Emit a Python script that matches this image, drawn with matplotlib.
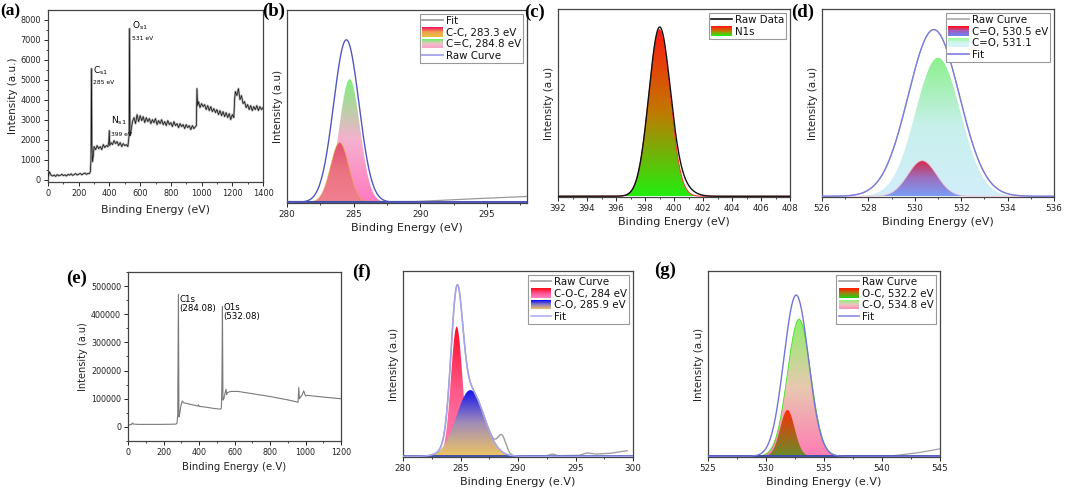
import numpy as np
import matplotlib
matplotlib.use("Agg")
import matplotlib.pyplot as plt
from matplotlib.colors import LinearSegmentedColormap
from matplotlib.legend_handler import HandlerBase
from matplotlib.patches import Rectangle, Patch
from matplotlib.lines import Line2D
from matplotlib.ticker import MultipleLocator

plt.rcParams['font.family'] = ['DejaVu Sans']

# ---------------- data ----------------
# (a) survey spectrum
a_energy = [0, 10, 20, 30, 40, 50, 60, 70, 80, 90, 100, 110, 120, 130, 140, 150, 160, 170, 180, 190,
            200, 210, 220, 230, 240, 250, 260, 270, 276, 280, 283, 286, 290, 295,
            300, 310, 320, 330, 340, 350, 360, 370, 380, 390, 396, 399, 402,
            410, 420, 430, 440, 450, 460, 470, 480, 490, 500, 510, 520, 525, 528, 531, 534, 540,
            550, 560, 570, 580, 590, 600, 610, 620, 630, 640, 650, 660, 670, 680, 690, 700,
            710, 720, 730, 740, 750, 760, 770, 780, 790, 800, 810, 820, 830, 840, 850, 860,
            870, 880, 890, 900, 910, 920, 930, 940, 950, 960, 966, 970, 974, 980, 990, 1000,
            1010, 1020, 1030, 1040, 1050, 1060, 1070, 1080, 1090, 1100, 1110, 1120, 1130, 1140,
            1150, 1160, 1170, 1180, 1190, 1200, 1210, 1215, 1220, 1230, 1240, 1250, 1260, 1270,
            1280, 1290, 1300, 1310, 1320, 1330, 1340, 1350, 1360, 1370, 1380, 1390, 1400]
a_counts = [150, 380, 220, 180, 230, 160, 250, 190, 210, 270, 200, 240, 180, 260, 220, 290, 210, 250, 300, 230,
            270, 310, 240, 290, 330, 260, 310, 300, 400, 1000, 5550, 1800, 900, 1200,
            1650, 1500, 1700, 1550, 1650, 1500, 1750, 1600, 1700, 1650, 1900, 2450, 1700,
            1850, 1750, 1950, 1800, 1900, 1700, 1850, 1650, 1800, 1700, 1750, 1650, 2000, 2200, 7550, 2200, 2400,
            2900, 3100, 2800, 3250, 2900, 3200, 2950, 3150, 2850, 3100, 2900, 3050, 2800, 3000, 2850, 3050,
            2750, 2950, 2800, 3000, 2750, 2900, 2700, 2950, 2750, 2850, 2650, 2900, 2700, 2800, 2600, 2800,
            2650, 2750, 2550, 2750, 2600, 2700, 2500, 2700, 2550, 2650, 2700, 4550, 3700, 3900, 3600, 3800,
            3650, 3750, 3500, 3700, 3450, 3650, 3400, 3550, 3350, 3500, 3250, 3450, 3200, 3400,
            3150, 3350, 3100, 3300, 3000, 3250, 3100, 4000, 4400, 4200, 4550, 4000, 4200, 3800,
            3900, 3600, 3750, 3500, 3700, 3450, 3650, 3500, 3700, 3450, 3650, 3500, 3600]
a_peak_names = ['C$_{\\rm s1}$', 'N$_{\\rm s1}$', 'O$_{\\rm s1}$']
a_peak_values = ['285 eV', '399 eV', '531 eV']

# (b) C 1s
b_labels = ['C-C, 283.3 eV', 'C=C, 284.8 eV']
b_centers = [283.95, 284.7]
b_heights = [0.31, 0.64]
b_sigmas = [0.68, 0.78]
b_env = [284.45, 0.845, 0.95]
b_tail_e = [280, 289.5, 291, 294, 298]
b_tail_i = [0.004, 0.004, 0.008, 0.018, 0.03]

# (c) N 1s
c_center, c_height, c_sigma = 399.0, 0.89, 0.74
c_raw_centers = [399.0, 400.4]
c_raw_heights = [0.895, 0.05]
c_raw_sigmas = [0.74, 0.75]

# (d) O 1s
d_labels = ['C=O, 530.5 eV', 'C=O, 531.1']
d_centers = [530.32, 531.0]
d_heights = [0.19, 0.74]
d_sigmas = [0.62, 0.97]
d_env = [530.82, 0.89, 1.1]

# (e) survey
e_energy = [0, 10, 20, 25, 30, 60, 120, 180, 240, 270, 276, 280, 284, 287, 292, 298, 305, 312,
            340, 380, 393, 397, 401, 440, 480, 520, 526, 529, 532, 535, 540, 546, 552, 556, 560,
            580, 620, 700, 800, 900, 950, 958, 962, 966, 972, 980, 990, 1000, 1010, 1100, 1200]
e_counts = [3000, 8000, 9000, 14000, 10000, 9000, 9000, 9000, 9500, 10000, 13000, 40000, 471000, 35000,
            50000, 75000, 92000, 86000, 82000, 76000, 74000, 79000, 73000, 70000, 66000, 63000, 66000,
            150000, 427000, 95000, 100000, 118000, 134000, 115000, 122000, 126000, 126000, 118000,
            108000, 96000, 89000, 87000, 140000, 100000, 106000, 112000, 128000, 110000, 112000, 106000, 100000]

# (f) C 1s
f_labels = ['C-O-C, 284 eV', 'C-O, 285.9 eV']
f_centers = [284.67, 285.85]
f_heights = [0.70, 0.357]
f_sigmas = [0.5, 1.2]
f_bump = [288.6, 0.09, 0.35]
f_tail_e = [289.8, 292.5, 293.0, 293.5, 295.3, 296.0, 296.8, 298.0, 299.5]
f_tail_i = [0.003, 0.003, 0.012, 0.003, 0.005, 0.018, 0.012, 0.016, 0.03]

# (g) O 1s
g_labels = ['O-C, 532.2 eV', 'C-O, 534.8 eV']
g_centers = [531.85, 532.85]
g_heights = [0.25, 0.74]
g_sigmas = [0.62, 1.0]
g_env = [532.6, 0.87, 1.06]
g_tail_e = [525, 541, 543, 545]
g_tail_i = [0.003, 0.003, 0.018, 0.04]

# ---------------- helpers ----------------
W, H = 1065, 488
fig = plt.figure(figsize=(W / 100, H / 100), dpi=100)
FRAME = '#444444'
TICKC = '#222222'


def add_ax(x0, x1, y0, y1):
    return fig.add_axes([x0 / W, 1 - y1 / H, (x1 - x0) / W, (y1 - y0) / H])


def gauss(x, c, h, s):
    return h * np.exp(-(x - c) ** 2 / (2 * s ** 2))


def grad_fill(ax, x, y, colors, z):
    poly = ax.fill_between(x, 0, y, facecolor='none', edgecolor='none', zorder=z)
    cmap = LinearSegmentedColormap.from_list('g', colors[::-1])
    grad = np.linspace(0, 1, 256).reshape(-1, 1)
    im = ax.imshow(grad, cmap=cmap, aspect='auto', origin='lower',
                   extent=[x.min(), x.max(), 0, y.max()], zorder=z, interpolation='bilinear')
    im.set_clip_path(poly.get_paths()[0], transform=ax.transData)


class GradHandler(HandlerBase):
    def __init__(self, colors):
        super().__init__()
        self.colors = colors

    def create_artists(self, legend, orig_handle, xdescent, ydescent, width, height, fontsize, trans):
        cmap = LinearSegmentedColormap.from_list('g', self.colors[::-1])
        n = 14
        arts = []
        for i in range(n):
            r = Rectangle((-xdescent, -ydescent + height * i / n), width, height / n * 1.05,
                          facecolor=cmap(i / (n - 1)), edgecolor='none', transform=trans)
            arts.append(r)
        return arts


def style(ax, xlab, ylab, yticks=False):
    for sp in ax.spines.values():
        sp.set_color(FRAME)
        sp.set_linewidth(0.9)
    ax.tick_params(axis='both', labelsize=6.3, colors=TICKC, length=3, width=0.7, direction='out', pad=2)
    ax.tick_params(which='minor', length=1.6, width=0.6, colors=TICKC)
    ax.set_xlabel(xlab, fontsize=8, color='#222222', labelpad=3)
    ax.set_ylabel(ylab, fontsize=7.5, color='#222222', labelpad=3)
    if not yticks:
        ax.set_yticks([])


def make_legend(ax, entries, fs=7.4):
    handles, labels, hmap = [], [], {}
    for kind, lab, spec in entries:
        if kind == 'line':
            h = Line2D([], [], color=spec, lw=1.2)
        else:
            h = Patch()
            hmap[h] = GradHandler(spec)
        handles.append(h)
        labels.append(lab)
    leg = ax.legend(handles, labels, handler_map=hmap, loc='upper right', fontsize=fs,
                    frameon=True, fancybox=False, edgecolor='#999999', framealpha=1,
                    handlelength=2.0, handleheight=1.05, handletextpad=0.3, labelspacing=0.12,
                    borderpad=0.22, borderaxespad=0.35)
    leg.get_frame().set_linewidth(0.8)
    for t in leg.get_texts():
        t.set_color('#111111')
    return leg


def panel_label(x, y, s, fs=13.5):
    fig.text(x / W, 1 - y / H, s, fontsize=fs, fontweight='bold', family='Liberation Serif',
             ha='left', va='center')


# ---------------- (a) ----------------
ax = add_ax(48, 263, 10, 182)
ax.plot(a_energy, a_counts, color='#b0b0b0', lw=1.6, zorder=2)
ax.plot(a_energy, a_counts, color='#111111', lw=0.5, zorder=3)
ax.set_xlim(0, 1400)
ax.set_ylim(-120, 8480)
ax.xaxis.set_major_locator(MultipleLocator(200))
ax.xaxis.set_minor_locator(MultipleLocator(100))
ax.yaxis.set_major_locator(MultipleLocator(1000))
ax.yaxis.set_minor_locator(MultipleLocator(500))
style(ax, 'Binding Energy (eV)', 'Intensity (a.u.)', yticks=True)
ax.tick_params(labelsize=5.9)
ax.set_xlabel('Binding Energy (eV)', fontsize=7.8, labelpad=5)
ax.set_ylabel('Intensity (a.u.)', fontsize=7.5, labelpad=2)
a_name_pos = [(290, 5450), (408, 2920), (545, 7680)]
a_val_pos = [(290, 4830), (412, 2280), (545, 7040)]
for nm, vl, p1, p2 in zip(a_peak_names, a_peak_values, a_name_pos, a_val_pos):
    ax.text(p1[0], p1[1], nm, fontsize=6.5, ha='left', va='center')
    ax.text(p2[0], p2[1], vl, fontsize=4.3, ha='left', va='center')
panel_label(0, 11, '(a)', fs=12.5)

# ---------------- (b) ----------------
ax = add_ax(287, 527, 10, 203)
xb = np.linspace(280, 298, 1441)
cc = gauss(xb, b_centers[0], b_heights[0], b_sigmas[0])
ce = gauss(xb, b_centers[1], b_heights[1], b_sigmas[1])
grad_fill(ax, xb, ce, ['#7ef07e', '#f6b0cf', '#ff7ac0'], 2)
grad_fill(ax, xb, cc, ['#e2506c', '#ec7482', '#f08090'], 3)
ax.plot(xb, cc, color='#e0b040', lw=0.6, zorder=3.5, alpha=0.7)
ax.plot(b_tail_e, b_tail_i, color='#999999', lw=0.9, zorder=4)
ax.plot(xb, gauss(xb, *b_env), color='#5555c0', lw=1.0, zorder=5)
ax.axhline(0.002, color='#3545a5', lw=1.3, zorder=4)
ax.set_xlim(280, 298)
ax.set_ylim(-0.004, 1.0)
ax.xaxis.set_major_locator(MultipleLocator(5))
ax.xaxis.set_minor_locator(MultipleLocator(2.5))
style(ax, 'Binding Energy (eV)', 'Intensity (a.u)')
make_legend(ax, [('line', 'Fit', '#999999'),
                 ('grad', b_labels[0], ['#ee2060', '#f0a050', '#e8c040']),
                 ('grad', b_labels[1], ['#70f070', '#f0c0c8', '#f8a0c8']),
                 ('line', 'Raw Curve', '#9a9ae6')])
panel_label(262, 11, '(b)')

# ---------------- (c) ----------------
ax = add_ax(558, 790, 9, 197)
xc = np.linspace(392, 408, 1281)
nf = gauss(xc, c_center, c_height, c_sigma)
grad_fill(ax, xc, nf, ['#ff1a10', '#c07a00', '#22ee10'], 2)
ax.plot(xc, nf, color='#ff3030', lw=0.7, zorder=3)
raw = sum(gauss(xc, c, h, s) for c, h, s in zip(c_raw_centers, c_raw_heights, c_raw_sigmas))
ax.plot(xc, raw, color='#111111', lw=1.0, zorder=4)
ax.set_xlim(392, 408)
ax.set_ylim(-0.004, 1.0)
ax.xaxis.set_major_locator(MultipleLocator(2))
ax.xaxis.set_minor_locator(MultipleLocator(1))
style(ax, 'Binding Energy (eV)', 'Intensity (a.u)')
make_legend(ax, [('line', 'Raw Data', '#111111'),
                 ('grad', 'N1s', ['#ff1a10', '#c07a00', '#22ee10'])])
panel_label(524, 12, '(c)')

# ---------------- (d) ----------------
ax = add_ax(822, 1054, 9, 197)
xd = np.linspace(526, 536, 1001)
d1 = gauss(xd, d_centers[0], d_heights[0], d_sigmas[0])
d2 = gauss(xd, d_centers[1], d_heights[1], d_sigmas[1])
denv = gauss(xd, *d_env)
ax.plot(xd, denv, color='#aaaaaa', lw=0.8, zorder=1)
grad_fill(ax, xd, d2, ['#8cf08c', '#c8f0ec', '#d2eefa'], 2)
grad_fill(ax, xd, d1, ['#d42a48', '#9a70c0', '#7a9cf6'], 3)
ax.plot(xd, d1, color='#f0c0d0', lw=0.6, zorder=3.5)
ax.plot(xd, denv, color='#7c7cde', lw=1.0, zorder=5)
ax.set_xlim(526, 536)
ax.set_ylim(-0.004, 1.0)
ax.xaxis.set_major_locator(MultipleLocator(2))
ax.xaxis.set_minor_locator(MultipleLocator(1))
style(ax, 'Binding Energy (eV)', 'Intensity (a.u)')
make_legend(ax, [('line', 'Raw Curve', '#aaaaaa'),
                 ('grad', d_labels[0], ['#ff1020', '#a060c0', '#7080f0']),
                 ('grad', d_labels[1], ['#a0f8a0', '#d0f4f0', '#d8f2fa']),
                 ('line', 'Fit', '#7c7cde')])
panel_label(791, 12, '(d)')

# ---------------- (e) ----------------
ax = add_ax(128, 341, 272, 441)
ax.plot(e_energy, e_counts, color='#7a7a7a', lw=0.8)
ax.set_xlim(0, 1200)
ax.set_ylim(-50000, 550000)
ax.xaxis.set_major_locator(MultipleLocator(200))
ax.xaxis.set_minor_locator(MultipleLocator(100))
ax.yaxis.set_major_locator(MultipleLocator(100000))
ax.yaxis.set_minor_locator(MultipleLocator(50000))
style(ax, 'Binding Energy (e.V)', 'Intensity (a.u)', yticks=True)
ax.tick_params(labelsize=5.8)
ax.set_xlabel('Binding Energy (e.V)', fontsize=7.3, labelpad=4)
ax.set_ylabel('Intensity (a.u)', fontsize=7.0, labelpad=2)
ax.text(290, 470000, 'C1s\n(284.08)', fontsize=6.2, ha='left', va='top', linespacing=1.05)
ax.text(536, 440000, 'O1s\n(532.08)', fontsize=6.2, ha='left', va='top', linespacing=1.05)
panel_label(66, 278, '(e)')

# ---------------- (f) ----------------
ax = add_ax(403, 633, 271, 457)
xf = np.linspace(280, 300, 1601)
f1 = gauss(xf, f_centers[0], f_heights[0], f_sigmas[0])
f2 = gauss(xf, f_centers[1], f_heights[1], f_sigmas[1])
fenv = f1 + f2
fraw = fenv + gauss(xf, *f_bump)
grad_fill(ax, xf, f1, ['#ff0a28', '#ff5a8a', '#ff80b8'], 2)
grad_fill(ax, xf, f2, ['#1010ee', '#a08cb8', '#eec464'], 3)
ax.plot(xf[xf < 290.2], fraw[xf < 290.2], color='#a0a0a0', lw=1.0, zorder=4)
ax.plot(f_tail_e, f_tail_i, color='#a0a0a0', lw=1.0, zorder=4)
ax.plot(xf, fenv, color='#a4a4ec', lw=1.1, zorder=5)
ax.axhline(0.002, color='#3545a5', lw=1.3, zorder=4)
ax.set_xlim(280, 300)
ax.set_ylim(-0.004, 1.0)
ax.xaxis.set_major_locator(MultipleLocator(5))
ax.xaxis.set_minor_locator(MultipleLocator(2.5))
style(ax, 'Binding Energy (e.V)', 'Intensity (a.u)')
make_legend(ax, [('line', 'Raw Curve', '#a0a0a0'),
                 ('grad', f_labels[0], ['#ff1020', '#ff5090', '#ff80c0']),
                 ('grad', f_labels[1], ['#1010f0', '#9080c0', '#f0c060']),
                 ('line', 'Fit', '#b0b0f0')])
panel_label(352, 272, '(f)')

# ---------------- (g) ----------------
ax = add_ax(708, 940, 271, 457)
xg = np.linspace(525, 545, 1601)
g1 = gauss(xg, g_centers[0], g_heights[0], g_sigmas[0])
g2 = gauss(xg, g_centers[1], g_heights[1], g_sigmas[1])
grad_fill(ax, xg, g2, ['#8cf06c', '#e8c8b0', '#ff7cb4'], 2)
grad_fill(ax, xg, g1, ['#ff2a0a', '#b06018', '#6a8a28'], 3)
ax.plot(xg, g2, color='#40e020', lw=0.6, zorder=2.5)
ax.plot(g_tail_e, g_tail_i, color='#a0a0a0', lw=0.9, zorder=4)
ax.plot(xg, gauss(xg, *g_env), color='#7474d6', lw=1.0, zorder=5)
ax.axhline(0.002, color='#3545a5', lw=1.3, zorder=4)
ax.set_xlim(525, 545)
ax.set_ylim(-0.004, 1.0)
ax.xaxis.set_major_locator(MultipleLocator(5))
ax.xaxis.set_minor_locator(MultipleLocator(2.5))
style(ax, 'Binding Energy (e.V)', 'Intensity (a.u)')
make_legend(ax, [('line', 'Raw Curve', '#a0a0a0'),
                 ('grad', g_labels[0], ['#ff2000', '#a08010', '#20d010']),
                 ('grad', g_labels[1], ['#90f080', '#f0c0c0', '#ff90b8']),
                 ('line', 'Fit', '#8c8ce0')])
panel_label(654, 270, '(g)')

fig.savefig('out.png', dpi=100)
